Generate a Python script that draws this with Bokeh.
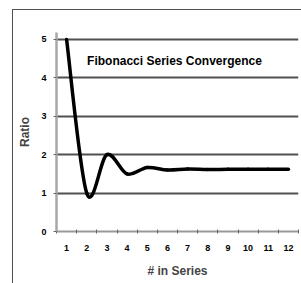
from bokeh.plotting import figure
from bokeh.models import FixedTicker, Range1d, Label
from bokeh.embed import file_html
from bokeh.resources import INLINE

# ---- data ----
terms = list(range(1, 13))
term_labels = [str(t) for t in terms]
ratios = [5.0, 1.0, 2.0, 1.5, 1.667, 1.6, 1.625, 1.615, 1.619, 1.618, 1.618, 1.618]
y_ticks = [0, 1, 2, 3, 4, 5]
title_text = "Fibonacci Series Convergence"
x_title = "# in Series"
y_title = "Ratio"

FONT = "Liberation Sans"

p = figure(width=301, height=283, output_backend="svg", toolbar_location=None,
           x_range=Range1d(0.5, 12.5), y_range=Range1d(0, 5.18),
           min_border_left=56, min_border_right=3, min_border_top=32, min_border_bottom=52)
p.outline_line_color = None
p.background_fill_color = "white"
p.border_fill_color = None
# thin frame of the original picture (left and top edges), drawn as CSS background lines
p.styles = {
    "background-color": "white",
    "background-image": "linear-gradient(#505050, #505050), linear-gradient(#505050, #505050)",
    "background-size": "1px 400px, 400px 1px",
    "background-position": "12px 9px, 12px 9px",
    "background-repeat": "no-repeat, no-repeat",
}

# smoothed line (Excel-like smoothing: cubic Bezier segments through the data points)
n = len(terms)
px = terms
py = ratios
x0, y0, x1, y1, cx0, cy0, cx1, cy1 = [], [], [], [], [], [], [], []
for i in range(n - 1):
    im1 = max(i - 1, 0)
    ip2 = min(i + 2, n - 1)
    x0.append(px[i]); y0.append(py[i])
    x1.append(px[i + 1]); y1.append(py[i + 1])
    cx0.append(px[i] + (px[i + 1] - px[im1]) / 6.0)
    cy0.append(py[i] + (py[i + 1] - py[im1]) / 6.0)
    cx1.append(px[i + 1] - (px[ip2] - px[i]) / 6.0)
    cy1.append(py[i + 1] - (py[ip2] - py[i]) / 6.0)

p.bezier(x0=x0, y0=y0, x1=x1, y1=y1, cx0=cx0, cy0=cy0, cx1=cx1, cy1=cy1,
         line_color="black", line_width=3.5, line_cap="round")

# axes
xa = p.xaxis[0]
xa.ticker = FixedTicker(ticks=terms, minor_ticks=[t - 0.5 for t in terms] + [terms[-1] + 0.5])
xa.major_label_overrides = {t: l for t, l in zip(terms, term_labels)}
xa.major_tick_in = 0
xa.major_tick_out = 0
xa.minor_tick_in = 2
xa.minor_tick_out = 2
xa.minor_tick_line_color = "#666666"
xa.axis_line_color = "#999999"
xa.axis_line_width = 2
xa.major_label_standoff = 11
xa.major_label_text_font = FONT
xa.major_label_text_font_style = "bold"
xa.major_label_text_font_size = "9px"
xa.major_label_text_color = "black"
xa.axis_label = x_title
xa.axis_label_text_font = FONT
xa.axis_label_text_font_style = "bold"
xa.axis_label_text_font_size = "12px"
xa.axis_label_standoff = 10

ya = p.yaxis[0]
ya.ticker = FixedTicker(ticks=y_ticks)
ya.major_tick_in = 0
ya.major_tick_out = 3
ya.major_tick_line_color = "#666666"
ya.minor_tick_line_color = None
ya.axis_line_color = "#a8a8a8"
ya.axis_line_width = 2.5
ya.major_label_standoff = 7
ya.major_label_text_font = FONT
ya.major_label_text_font_style = "bold"
ya.major_label_text_font_size = "9px"
ya.major_label_text_color = "black"
ya.axis_label = y_title
ya.axis_label_text_font = FONT
ya.axis_label_text_font_style = "bold"
ya.axis_label_text_font_size = "12px"
ya.axis_label_standoff = 6

p.xgrid.grid_line_color = None
p.ygrid.ticker = FixedTicker(ticks=y_ticks[1:])
p.ygrid.grid_line_color = "#505050"
p.ygrid.grid_line_width = 2

p.add_layout(Label(x=6.35, y=4.45, text=title_text, text_align="center",
                   text_baseline="middle", text_font=FONT, text_font_style="bold",
                   text_font_size="12px", text_color="black"))

open("out.html", "w").write(file_html(p, INLINE))
